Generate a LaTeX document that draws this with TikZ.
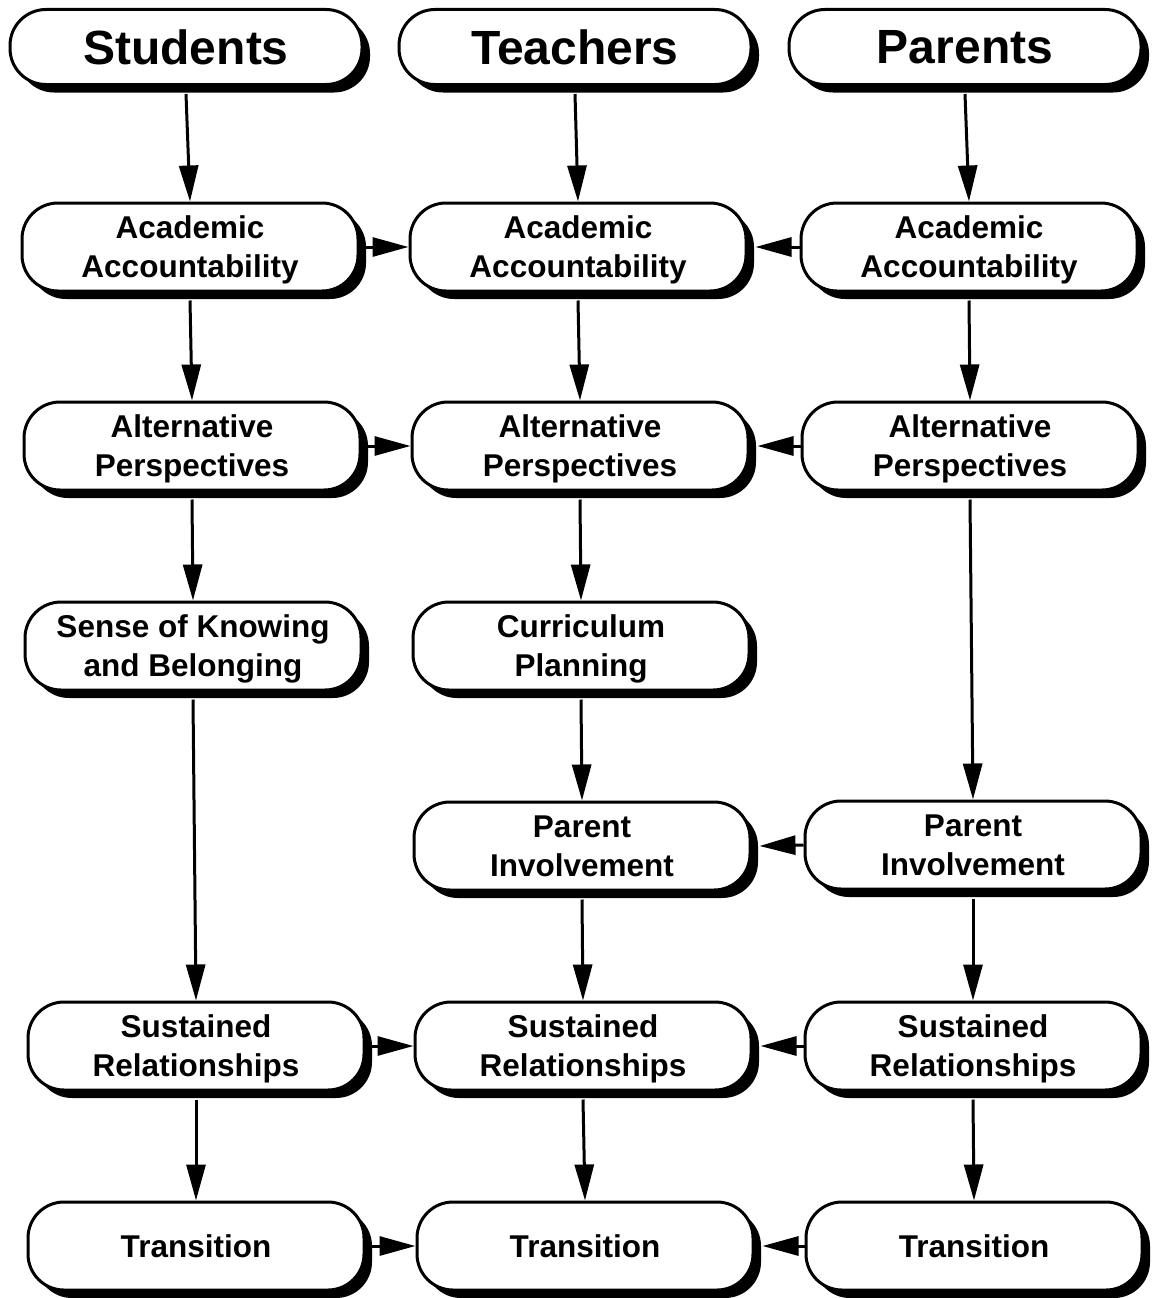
\documentclass[tikz,border=0pt]{standalone}
\usepackage{fontspec}
\setmainfont{Liberation Sans}
\usetikzlibrary{arrows.meta,shadows}
\tikzset{
  box/.style={draw=black, line width=3pt, fill=white, rounded corners=36pt,
    minimum width=336pt, minimum height=88pt, align=center, inner sep=0pt,
    text depth=-6pt,
    font=\fontsize{31.5}{39}\selectfont\bfseries,
    drop shadow={shadow xshift=8pt, shadow yshift=-8pt, opacity=1, fill=black}},
  head/.style={box, minimum width=352pt, minimum height=75pt, text depth=0pt,
    font=\fontsize{48}{52}\selectfont\bfseries},
  arr/.style={line width=3pt, -{Triangle[length=36pt,width=19pt]}}
}
\begin{document}
\begin{tikzpicture}[x=1pt,y=-1pt]
\useasboundingbox (0,0) rectangle (1165,1298);
% headers
\node[head] (sh) at (186,47) {Students};
\node[head] (th) at (575,47) {Teachers};
\node[head] (ph) at (965,47) {Parents};
% row 1
\node[box] (s1) at (190,247) {Academic\\Accountability};
\node[box] (t1) at (578,247) {Academic\\Accountability};
\node[box] (p1) at (969,247) {Academic\\Accountability};
% row 2
\node[box] (s2) at (192,446) {Alternative\\Perspectives};
\node[box] (t2) at (580,446) {Alternative\\Perspectives};
\node[box] (p2) at (970,446) {Alternative\\Perspectives};
% row 3
\node[box] (s3) at (193,646) {Sense of Knowing\\and Belonging};
\node[box] (t3) at (581,646) {Curriculum\\Planning};
% row 4
\node[box] (t4) at (582,846) {Parent\\Involvement};
\node[box] (p4) at (973,845) {Parent\\Involvement};
% row 5
\node[box] (s5) at (196,1046) {Sustained\\Relationships};
\node[box] (t5) at (583,1046) {Sustained\\Relationships};
\node[box] (p5) at (973,1046) {Sustained\\Relationships};
% row 6
\node[box] (s6) at (196,1246) {Transition};
\node[box] (t6) at (585,1246) {Transition};
\node[box] (p6) at (974,1246) {Transition};
% vertical arrows
\draw[arr] ([yshift=-8pt]sh.south) -- (s1.north);
\draw[arr] ([yshift=-8pt]th.south) -- (t1.north);
\draw[arr] ([yshift=-8pt]ph.south) -- (p1.north);
\draw[arr] ([yshift=-8pt]s1.south) -- (s2.north);
\draw[arr] ([yshift=-8pt]t1.south) -- (t2.north);
\draw[arr] ([yshift=-8pt]p1.south) -- (p2.north);
\draw[arr] ([yshift=-8pt]s2.south) -- (s3.north);
\draw[arr] ([yshift=-8pt]t2.south) -- (t3.north);
\draw[arr] ([yshift=-8pt]p2.south) -- (p4.north);
\draw[arr] ([yshift=-8pt]t3.south) -- (t4.north);
\draw[arr] ([yshift=-8pt]s3.south) -- (s5.north);
\draw[arr] ([yshift=-8pt]t4.south) -- (t5.north);
\draw[arr] ([yshift=-8pt]p4.south) -- (p5.north);
\draw[arr] ([yshift=-8pt]s5.south) -- (s6.north);
\draw[arr] ([yshift=-8pt]t5.south) -- (t6.north);
\draw[arr] ([yshift=-8pt]p5.south) -- (p6.north);
% horizontal arrows
\draw[arr] (s1.east) -- (t1.west);
\draw[arr] (p1.west) -- ([xshift=8pt]t1.east);
\draw[arr] (s2.east) -- (t2.west);
\draw[arr] (p2.west) -- ([xshift=8pt]t2.east);
\draw[arr] (p4.west) -- ([xshift=8pt]t4.east);
\draw[arr] (s5.east) -- (t5.west);
\draw[arr] (p5.west) -- ([xshift=8pt]t5.east);
\draw[arr] (s6.east) -- (t6.west);
\draw[arr] (p6.west) -- ([xshift=8pt]t6.east);
\end{tikzpicture}
\end{document}
